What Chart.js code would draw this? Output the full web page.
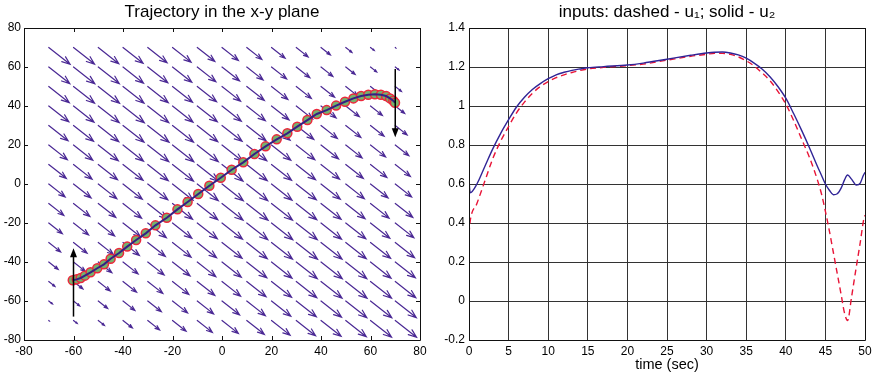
<!DOCTYPE html>
<html>
<head>
<meta charset="utf-8">
<script src="https://cdn.jsdelivr.net/npm/chart.js@4.4.1/dist/chart.umd.min.js"></script>
<style>
body { margin:0; background:#fff; width:873px; height:376px; overflow:hidden; }
.panel { position:absolute; top:0; }
</style>
</head>
<body>
<div class="panel" style="left:0"><canvas id="traj" width="436" height="376"></canvas></div>
<div class="panel" style="left:436px"><canvas id="inputs" width="437" height="376"></canvas></div>
<script>
// ---- left panel: vector field + trajectory ----
const gridX = [-70, -60, -50, -40, -30, -20, -10, 0, 10, 20, 30, 40, 50, 60, 70];
const gridY = [70, 60, 50, 40, 30, 20, 10, 0, -10, -20, -30, -40, -50, -60, -70];
// field component (u = -v), indexed by |x+y|/10
const fieldU = [8.6, 8.5, 8.3, 8.1, 7.8, 7.5, 7.1, 6.6, 6.1, 5.5, 4.8, 3.8, 2.5, 1.5, 0.2];

const trajX = [-60.3, -58.7, -57.1, -55.4, -53.1, -50.4, -47.7, -45.0, -41.6, -38.3, -34.7, -30.8, -26.9,
  -22.3, -18.0, -13.9, -9.6, -5.1, -0.5, 3.9, 8.6, 13.1, 17.6, 22.1, 26.4, 30.4, 34.5, 38.3, 42.3,
  46.1, 49.7, 53.1, 56.2, 59.1, 61.8, 64.2, 66.3, 67.9, 69.2, 69.9];
const trajY = [-49.4, -48.9, -48.2, -47.0, -45.3, -43.2, -41.2, -38.3, -35.4, -32.1, -28.7, -25.3, -21.2,
  -17.3, -13.0, -9.2, -5.1, -0.9, 3.2, 7.3, 11.1, 15.4, 19.3, 22.9, 26.0, 29.4, 32.8, 35.9, 37.9,
  40.2, 42.2, 43.9, 45.1, 45.8, 46.0, 45.8, 45.1, 43.9, 42.7, 41.7];

// start / end heading arrows
const headX = [-60, 70];
const headFrom = [-68, 59];
const headTo = [-33, 24];

const xyTicks = [-80, -60, -40, -20, 0, 20, 40, 60, 80];

// ---- right panel: inputs ----
const timeSec = [0, 0.15, 1, 2, 3, 4, 5, 6, 7, 8, 9, 10, 11, 12, 13, 14, 15, 17, 20, 22, 25, 28, 30, 31,
  32, 33, 34, 35, 36, 37, 38, 39, 40, 41, 42, 43, 44, 44.5, 45, 45.5, 46, 46.5, 47, 47.4, 47.8, 48.3,
  48.9, 49.4, 49.8, 50];
const u1 = [0.345, 0.41, 0.50, 0.615, 0.73, 0.82, 0.895, 0.965, 1.02, 1.065, 1.10, 1.125, 1.145, 1.16,
  1.172, 1.182, 1.19, 1.198, 1.207, 1.215, 1.235, 1.255, 1.265, 1.27, 1.27, 1.265, 1.252, 1.232, 1.205,
  1.17, 1.13, 1.075, 1.01, 0.925, 0.83, 0.735, 0.62, 0.55, 0.46, 0.36, 0.25, 0.14, 0.03, -0.06, -0.1,
  0.02, 0.175, 0.30, 0.41, 0.44];
const u2 = [0.62, 0.555, 0.60, 0.69, 0.78, 0.86, 0.93, 0.995, 1.045, 1.085, 1.115, 1.14, 1.16, 1.173,
  1.183, 1.19, 1.196, 1.202, 1.21, 1.22, 1.24, 1.26, 1.272, 1.276, 1.277, 1.272, 1.262, 1.245, 1.22,
  1.19, 1.15, 1.10, 1.04, 0.96, 0.875, 0.785, 0.69, 0.645, 0.60, 0.568, 0.545, 0.55, 0.58, 0.62, 0.646,
  0.625, 0.595, 0.605, 0.645, 0.66];

Chart.defaults.font.family = '"Liberation Sans", Arial, sans-serif';
Chart.defaults.font.size = 12;
Chart.defaults.color = '#000';

function arrow(ctx, x0, y0, x1, y1, headFrac, ang) {
  const dx = x1 - x0, dy = y1 - y0;
  const len = Math.hypot(dx, dy);
  ctx.beginPath();
  ctx.moveTo(x0, y0);
  ctx.lineTo(x1, y1);
  if (len > 0.5) {
    const a = Math.atan2(dy, dx), h = len * headFrac;
    ctx.moveTo(x1 - h * Math.cos(a - ang), y1 - h * Math.sin(a - ang));
    ctx.lineTo(x1, y1);
    ctx.lineTo(x1 - h * Math.cos(a + ang), y1 - h * Math.sin(a + ang));
  }
  ctx.stroke();
}

const quiver = {
  id: 'quiver',
  beforeDatasetsDraw(chart) {
    const {ctx, scales: {x, y}} = chart;
    ctx.save();
    ctx.strokeStyle = 'rgb(74,40,148)';
    ctx.lineWidth = 1.2;
    ctx.lineCap = 'round';
    gridY.forEach(gy => gridX.forEach(gx => {
      const u = fieldU[Math.abs(gx + gy) / 10];
      arrow(ctx, x.getPixelForValue(gx), y.getPixelForValue(gy),
        x.getPixelForValue(gx + u), y.getPixelForValue(gy - u), 0.32, 0.36);
    }));
    ctx.restore();
  },
  afterDatasetsDraw(chart) {
    const {ctx, scales: {x, y}} = chart;
    ctx.save();
    ctx.strokeStyle = '#000';
    ctx.fillStyle = '#000';
    ctx.lineWidth = 1.5;
    headX.forEach((hx, i) => {
      const px = x.getPixelForValue(hx);
      const p0 = y.getPixelForValue(headFrom[i]), p1 = y.getPixelForValue(headTo[i]);
      const dir = p1 < p0 ? 1 : -1;
      ctx.beginPath();
      ctx.moveTo(px, p0);
      ctx.lineTo(px, p1 + dir * 6);
      ctx.stroke();
      ctx.beginPath();
      ctx.moveTo(px, p1);
      ctx.lineTo(px - 3.5, p1 + dir * 9);
      ctx.lineTo(px + 3.5, p1 + dir * 9);
      ctx.closePath();
      ctx.fill();
    });
    ctx.restore();
  }
};

// axes box with inward ticks, matlab style
const axesBox = {
  id: 'axesBox',
  afterDatasetsDraw(chart, args, opts) {
    const {ctx, chartArea: a, scales: {x, y}} = chart;
    ctx.save();
    ctx.strokeStyle = opts.color || '#000';
    ctx.lineWidth = 1;
    ctx.beginPath();
    if (opts.ticks) {
      x.ticks.forEach(t => {
        const p = Math.round(x.getPixelForValue(t.value)) + 0.5;
        ctx.moveTo(p, a.bottom); ctx.lineTo(p, a.bottom - 4);
        ctx.moveTo(p, a.top); ctx.lineTo(p, a.top + 4);
      });
      y.ticks.forEach(t => {
        const p = Math.round(y.getPixelForValue(t.value)) + 0.5;
        ctx.moveTo(a.left, p); ctx.lineTo(a.left + 4, p);
        ctx.moveTo(a.right, p); ctx.lineTo(a.right - 4, p);
      });
    }
    ctx.rect(a.left + 0.5, a.top + 0.5, a.width, a.height);
    ctx.stroke();
    ctx.restore();
  }
};

function fitY(w) {
  return s => { s.width = w; };
}
function fitX(h) {
  return s => { s.height = h; s.paddingLeft = 0; s.paddingRight = 0; };
}

new Chart(document.getElementById('traj'), {
  type: 'scatter',
  data: {
    datasets: [
      {
        data: trajX.map((v, i) => ({x: v, y: trajY[i]})),
        showLine: true,
        borderColor: 'rgb(52,32,132)',
        borderWidth: 2,
        pointRadius: 0,
        order: 0
      },
      {
        data: trajX.map((v, i) => ({x: v, y: trajY[i]})),
        pointRadius: 4.5,
        borderWidth: 1.5,
        borderColor: 'rgb(236,40,60)',
        backgroundColor: 'rgb(118,178,108)',
        order: 1
      }
    ]
  },
  options: {
    responsive: false,
    animation: false,
    events: [],
    layout: {padding: {left: 0, right: 16, top: 0, bottom: 0}},
    plugins: {
      legend: {display: false},
      tooltip: {enabled: false},
      title: {
        display: true,
        text: 'Trajectory in the x-y plane',
        fullSize: false,
        color: '#000',
        font: {size: 17, weight: 'normal'},
        padding: {top: 2, bottom: 5.6}
      },
      axesBox: {ticks: true, color: '#111'}
    },
    scales: {
      x: {
        type: 'linear', min: -80, max: 80,
        afterBuildTicks: s => { s.ticks = xyTicks.map(v => ({value: v})); },
        grid: {display: false, drawTicks: false},
        border: {display: false},
        ticks: {padding: 4, maxRotation: 0},
        afterFit: fitX(36)
      },
      y: {
        type: 'linear', min: -80, max: 80,
        afterBuildTicks: s => { s.ticks = xyTicks.map(v => ({value: v})); },
        grid: {display: false, drawTicks: false},
        border: {display: false},
        ticks: {padding: 3},
        afterFit: fitY(24)
      }
    }
  },
  plugins: [quiver, axesBox]
});

new Chart(document.getElementById('inputs'), {
  type: 'line',
  data: {
    datasets: [
      {
        label: 'u2',
        data: timeSec.map((t, i) => ({x: t, y: u2[i]})),
        borderColor: 'rgb(48,36,150)',
        borderWidth: 1.4,
        pointRadius: 0,
        cubicInterpolationMode: 'monotone'
      },
      {
        label: 'u1',
        data: timeSec.map((t, i) => ({x: t, y: u1[i]})),
        borderColor: 'rgb(232,20,55)',
        borderWidth: 1.4,
        borderDash: [6, 4],
        pointRadius: 0,
        cubicInterpolationMode: 'monotone'
      }
    ]
  },
  options: {
    responsive: false,
    animation: false,
    events: [],
    layout: {padding: {left: 0, right: 8, top: 0, bottom: 0}},
    plugins: {
      legend: {display: false},
      tooltip: {enabled: false},
      title: {
        display: true,
        text: 'inputs: dashed - u\u2081; solid - u\u2082',
        fullSize: false,
        color: '#000',
        font: {size: 17, weight: 'normal'},
        padding: {top: 2, bottom: 5.6}
      },
      axesBox: {ticks: false, color: '#111'}
    },
    scales: {
      x: {
        type: 'linear', min: 0, max: 50,
        grid: {color: '#333', drawTicks: false},
        border: {display: false},
        ticks: {stepSize: 5, padding: 4, maxRotation: 0},
        title: {display: true, text: 'time (sec)', font: {size: 14.5}, padding: {top: 0, bottom: 2}},
        afterFit: fitX(36)
      },
      y: {
        type: 'linear', min: -0.2, max: 1.4,
        grid: {color: '#333', drawTicks: false},
        border: {display: false},
        ticks: {stepSize: 0.2, padding: 4, callback: v => String(+v.toFixed(1))},
        afterFit: fitY(33)
      }
    }
  },
  plugins: [axesBox]
});
</script>
</body>
</html>
